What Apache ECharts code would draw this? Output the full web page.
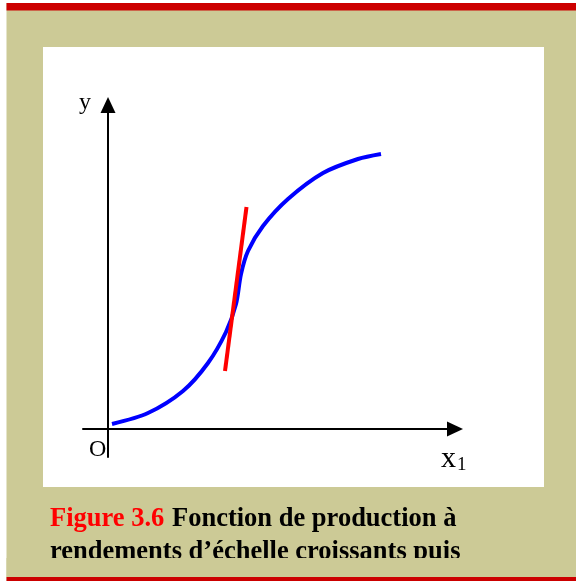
<!DOCTYPE html>
<html>
<head>
<meta charset="utf-8">
<script src="https://cdn.jsdelivr.net/npm/echarts@6/dist/echarts.min.js"></script>
<style>html,body{margin:0;padding:0;background:#fff;}#c{width:576px;height:581px;}</style>
</head>
<body>
<div id="c"></div>
<script>
// Production curve (x1 -> y)
var curveX = [4, 40, 75, 100, 118, 128, 133, 140, 155, 180, 215, 250, 273];
var curveY = [5, 16, 38, 66, 97, 125, 155, 178, 203, 230, 256, 270, 275];
// Tangent at the inflection point
var tangentX = [117, 138.5];
var tangentY = [58, 222];
// Texts
var axisNameY = 'y';
var axisNameX = 'x';
var axisNameXSub = '1';
var originLabel = 'O';
var captionRed = 'Figure 3.6';
var captionLine1 = 'Fonction de production à';
var captionLine2 = 'rendements d’échelle croissants puis';

var KHAKI = '#CCCA96';
var serif = '"Liberation Serif", "Times New Roman", serif';

function pairs(xs, ys) { return xs.map(function (x, i) { return [x, ys[i]]; }); }

var chart = echarts.init(document.getElementById('c'), null, {renderer: 'canvas'});
chart.setOption({
  animation: false,
  backgroundColor: '#ffffff',
  grid: {left: 83, right: 121, top: 105, bottom: 124, containLabel: false},
  xAxis: {
    type: 'value', min: -25, max: 347,
    axisLine: {show: true, onZero: true, symbol: ['none', 'triangle'], symbolSize: [15, 16],
      lineStyle: {color: '#000', width: 2}},
    axisTick: {show: false}, axisLabel: {show: false}, splitLine: {show: false}
  },
  yAxis: {
    type: 'value', min: -28, max: 324,
    axisLine: {show: true, onZero: true, symbol: ['none', 'triangle'], symbolSize: [15, 16],
      lineStyle: {color: '#000', width: 2}},
    axisTick: {show: false}, axisLabel: {show: false}, splitLine: {show: false}
  },
  series: [
    {type: 'line', data: pairs(curveX, curveY), smooth: 0.3, showSymbol: false,
      lineStyle: {color: '#0000FF', width: 4}, z: 3},
    {type: 'line', data: pairs(tangentX, tangentY), showSymbol: false,
      lineStyle: {color: '#FF0000', width: 4}, z: 4}
  ],
  graphic: [
    {type: 'rect', z: -20, shape: {x: 6.5, y: 3, width: 570, height: 578}, style: {fill: KHAKI}},
    {type: 'rect', z: -19, shape: {x: 6.5, y: 3, width: 570, height: 7.5}, style: {fill: '#CC0000'}},
    {type: 'rect', z: -19, shape: {x: 6.5, y: 577, width: 570, height: 4}, style: {fill: '#CC0000'}},
    {type: 'rect', z: -18, shape: {x: 43, y: 47, width: 501, height: 440}, style: {fill: '#ffffff'}},
    {type: 'text', z: 50, x: 85, y: 103, style: {text: axisNameY, font: '24px ' + serif, fill: '#000', align: 'center', verticalAlign: 'middle'}},
    {type: 'text', z: 50, x: 89, y: 450, style: {text: originLabel, font: '24px ' + serif, fill: '#000', align: 'left', verticalAlign: 'middle'}},
    {type: 'text', z: 50, x: 441, y: 459, style: {text: axisNameX, font: '30px ' + serif, fill: '#000', align: 'left', verticalAlign: 'middle'}},
    {type: 'text', z: 50, x: 457, y: 465, style: {text: axisNameXSub, font: '19px ' + serif, fill: '#000', align: 'left', verticalAlign: 'middle'}},
    {type: 'text', z: 50, x: 50, y: 519, style: {text: captionRed, font: 'bold 26.5px ' + serif, fill: '#FF0000', align: 'left', verticalAlign: 'middle'}},
    {type: 'text', z: 50, x: 172, y: 519, style: {text: captionLine1, font: 'bold 26.5px ' + serif, fill: '#000', align: 'left', verticalAlign: 'middle'}},
    {type: 'text', z: 50, x: 50, y: 552, style: {text: captionLine2, font: 'bold 26.5px ' + serif, fill: '#000', align: 'left', verticalAlign: 'middle'}},
    {type: 'rect', z: 60, shape: {x: 6.5, y: 558, width: 570, height: 19}, style: {fill: KHAKI}}
  ]
});
</script>
</body>
</html>
